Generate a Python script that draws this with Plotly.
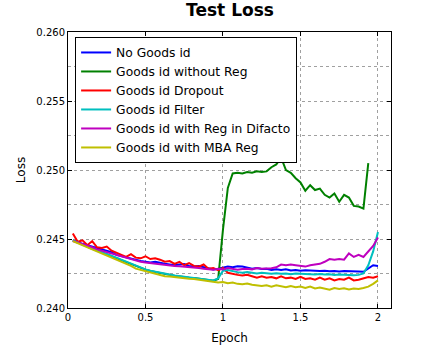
import plotly.graph_objects as go

epoch = [0.0312,0.0625,0.0938,0.125,0.1562,0.1875,0.2188,0.25,0.2812,0.3125,
         0.3438,0.375,0.4062,0.4375,0.4688,0.5,0.5312,0.5625,0.5938,0.625,
         0.6562,0.6875,0.7188,0.75,0.7812,0.8125,0.8438,0.875,0.9062,0.9375,
         0.9688,1.0,1.0312,1.0625,1.0938,1.125,1.1562,1.1875,1.2188,1.25,
         1.2812,1.3125,1.3438,1.375,1.4062,1.4375,1.4688,1.5,1.5312,1.5625,
         1.5938,1.625,1.6562,1.6875,1.7188,1.75,1.7812,1.8125,1.8438,1.875,
         1.9062,1.9375,1.9688,2.0]

no_goods_id = [0.2449,0.24475,0.24465,0.24455,0.24445,0.24435,0.24425,0.24415,0.24405,0.24385,
               0.24375,0.24365,0.24355,0.2435,0.2434,0.24335,0.2433,0.24335,0.24325,0.2432,
               0.24315,0.2431,0.24315,0.24318,0.24305,0.243,0.24305,0.24295,0.24285,0.2428,
               0.24285,0.24295,0.243,0.24295,0.24302,0.243,0.2429,0.24285,0.2429,0.24282,
               0.24285,0.24275,0.2428,0.24275,0.2428,0.24272,0.24275,0.2427,0.24273,0.2427,
               0.24272,0.24268,0.2427,0.24266,0.24268,0.24265,0.24268,0.24265,0.24263,0.24264,
               0.24262,0.24285,0.2431,0.24305]

without_reg = [0.2449,0.24473,0.24458,0.24445,0.24428,0.24416,0.24402,0.2439,0.24376,0.24363,
               0.24347,0.24333,0.24317,0.24304,0.2429,0.24278,0.24268,0.2426,0.24253,0.24245,
               0.2424,0.24234,0.24228,0.24226,0.2422,0.24218,0.24212,0.2421,0.24202,0.24198,
               0.2421,0.2457,0.2487,0.24975,0.2498,0.24975,0.24985,0.2498,0.2499,0.24985,
               0.2499,0.2502,0.2504,0.2509,0.25,0.2498,0.2494,0.2491,0.2485,0.2489,
               0.24855,0.24865,0.2482,0.248,0.2483,0.2477,0.2482,0.248,0.2474,0.24735,
               0.2472,0.2505,None,None]

dropout = [0.2454,0.2448,0.2449,0.24455,0.24485,0.2444,0.24435,0.24445,0.24415,0.244,
           0.2439,0.2437,0.2439,0.24365,0.2436,0.24375,0.24355,0.2436,0.2435,0.24335,
           0.2434,0.2432,0.24335,0.2431,0.24325,0.24305,0.243,0.24315,0.24285,0.2429,
           0.24275,0.2429,0.24255,0.24245,0.2424,0.24235,0.2424,0.2423,0.2422,0.2423,
           0.2422,0.24225,0.24215,0.2423,0.24215,0.2422,0.2421,0.24225,0.2421,0.24215,
           0.24205,0.2422,0.24205,0.24215,0.242,0.2421,0.24205,0.2422,0.242,0.24205,
           0.24215,0.24225,0.2422,0.2423]

filter_ = [0.2449,0.24475,0.2446,0.24445,0.2443,0.24418,0.24405,0.24392,0.2438,0.24365,
           0.2435,0.24335,0.2432,0.24305,0.24292,0.2428,0.2427,0.24262,0.24255,0.24248,
           0.24242,0.24236,0.24232,0.24228,0.24224,0.2422,0.24216,0.24212,0.24205,0.242,
           0.24215,0.2427,0.24275,0.24265,0.2426,0.24255,0.2426,0.24255,0.2425,0.24255,
           0.2425,0.24248,0.24252,0.24248,0.2425,0.24245,0.2425,0.24248,0.24245,0.24248,
           0.24243,0.24246,0.24242,0.24245,0.2424,0.24243,0.2424,0.24242,0.24238,0.2424,
           0.2425,0.2431,0.2441,0.2455]

reg_difacto = [0.24485,0.24475,0.2446,0.2445,0.2444,0.24425,0.24415,0.24405,0.24395,0.24385,
               0.2437,0.2436,0.2435,0.24342,0.24335,0.2433,0.24325,0.2432,0.24315,0.2431,
               0.24308,0.24305,0.24302,0.243,0.24298,0.24295,0.2429,0.24285,0.2428,0.24278,
               0.24285,0.2428,0.2429,0.24285,0.24278,0.24282,0.24285,0.2428,0.2429,0.24285,
               0.24285,0.24288,0.24295,0.24315,0.2431,0.24315,0.2431,0.24305,0.243,0.2431,
               0.24315,0.2432,0.24335,0.24355,0.2435,0.24355,0.2435,0.24395,0.2437,0.24385,
               0.2437,0.2441,0.2445,0.2451]

mba_reg = [0.24485,0.2447,0.24455,0.2444,0.24425,0.2441,0.24395,0.2438,0.24368,0.24353,
           0.24338,0.24323,0.24305,0.24285,0.24275,0.24265,0.24255,0.24245,0.24238,0.2423,
           0.24228,0.24223,0.2422,0.24215,0.24212,0.2421,0.24205,0.242,0.24195,0.24193,
           0.24185,0.24188,0.2418,0.24185,0.24175,0.24172,0.24178,0.24168,0.24165,0.2416,
           0.24165,0.24155,0.24165,0.24155,0.2415,0.2416,0.2415,0.24155,0.24145,0.24155,
           0.24142,0.24148,0.2414,0.24132,0.24145,0.24138,0.24143,0.24135,0.24142,0.24138,
           0.24145,0.24155,0.24175,0.242]

series_names = ["No Goods id", "Goods id without Reg", "Goods id Dropout",
                "Goods id Filter", "Goods id with Reg in Difacto", "Goods id with MBA Reg"]
series_values = [no_goods_id, without_reg, dropout, filter_, reg_difacto, mba_reg]
series_colors = ["#0000ff", "#008000", "#ff0000", "#00bfbf", "#bf00bf", "#bfbf00"]

y_ticks = [0.240, 0.245, 0.250, 0.255, 0.260]
x_ticks = [0, 0.5, 1, 1.5, 2]
x_tick_labels = ["0", "0.5", "1", "1.5", "2"]

fig = go.Figure()
for name, vals, col in zip(series_names, series_values, series_colors):
    fig.add_trace(go.Scatter(x=epoch, y=vals, name=name, mode="lines",
                             line=dict(color=col, width=2)))

font = "DejaVu Sans, Arial, sans-serif"
fig.update_layout(
    width=422, height=358,
    margin=dict(l=68, r=31, t=32, b=50),
    paper_bgcolor="white", plot_bgcolor="white",
    font=dict(family=font, size=10, color="black"),
    title=dict(text="<b>Test Loss</b>", x=230/422, xanchor="center",
               y=1 - 10/358, yanchor="middle", yref="container",
               font=dict(size=17, family=font, color="black")),
    showlegend=True,
    legend=dict(x=0.022, y=0.982, xanchor="left", yanchor="top",
                bgcolor="white", bordercolor="black", borderwidth=1,
                font=dict(size=12.3, family=font), itemwidth=30,
                tracegroupgap=0),
    xaxis=dict(range=[0, 2.084], tickvals=x_ticks, ticktext=x_tick_labels,
               showline=True, linecolor="black", linewidth=1, mirror="ticks",
               ticks="inside", ticklen=4, tickcolor="black",
               showgrid=True, gridcolor="#a0a0a0", griddash="dot", gridwidth=1,
               zeroline=False, automargin=False,
               title=dict(text="Epoch", font=dict(size=12), standoff=11)),
    yaxis=dict(range=[0.240, 0.260], tickvals=y_ticks, tickformat=".3f",
               showline=True, linecolor="black", linewidth=1, mirror="ticks",
               ticks="inside", ticklen=4, tickcolor="black",
               showgrid=True, gridcolor="#a0a0a0", griddash="dot", gridwidth=1,
               zeroline=False, automargin=False,
               minor=dict(dtick=0.0025, showgrid=True, gridcolor="#a0a0a0",
                          griddash="dot", gridwidth=1),
               title=dict(text="Loss", font=dict(size=12), standoff=8)),
)

fig.write_html("out.html", config={"displayModeBar": False},
               post_script="document.body.style.margin='0';document.body.style.padding='0';")
